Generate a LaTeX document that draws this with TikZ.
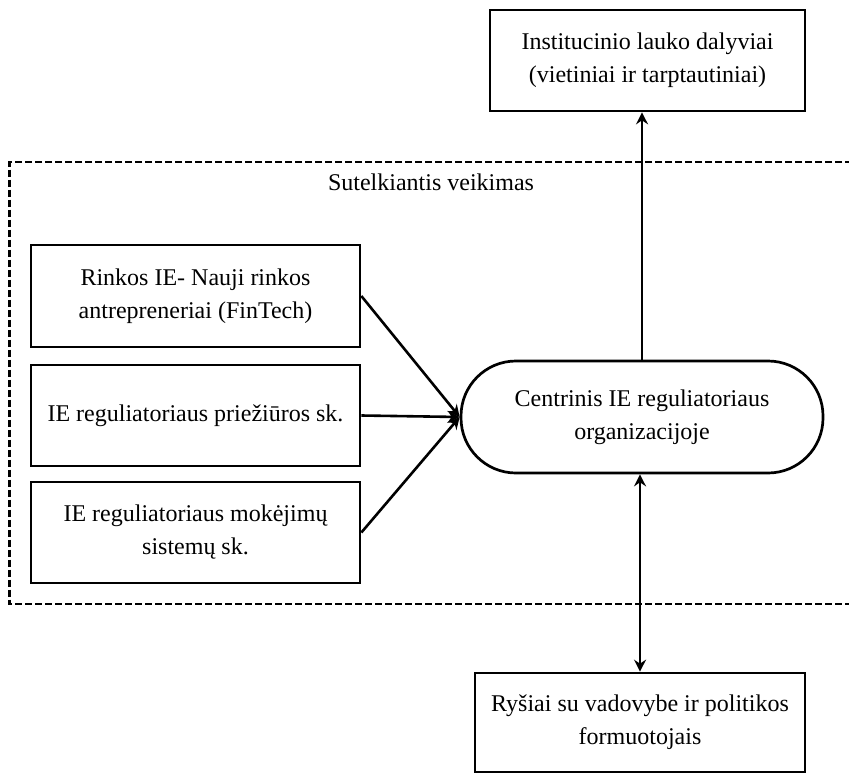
\documentclass[tikz,border=0pt]{standalone}
\usepackage{fontspec}
\setmainfont{Liberation Serif}
\usetikzlibrary{arrows.meta}
\begin{document}
\begin{tikzpicture}[x=0.5pt,y=-0.5pt,
  every node/.style={font=\fontsize{12pt}{16.5pt}\selectfont, align=center, inner sep=0pt},
  box/.style={draw, line width=1.35pt, rectangle},
  pill/.style={draw, line width=1.35pt, rectangle, rounded corners=27.5pt},
  conn/.style={line width=1.3pt, -{Stealth[length=6pt,width=6pt,inset=2pt]}},
  dconn/.style={line width=1.3pt, {Stealth[length=6pt,width=6pt,inset=2pt]}-{Stealth[length=6pt,width=6pt,inset=2pt]}},
  frame/.style={line width=1.2pt, dash pattern=on 3.5pt off 1.5pt}]
\useasboundingbox (0,0) rectangle (849,775);
\fill[white] (0,0) rectangle (849,775);
% top box
\node[box, minimum width=157.5pt, minimum height=50.5pt] (top) at (647.5,60.5)
  {Institucinio lauko dalyviai\\(vietiniai ir tarptautiniai)};
% dashed frame
\draw[frame] (852,162) -- (9.5,162) -- (9.5,604) -- (852,604);
\node (lab) at (431,182) {Sutelkiantis veikimas};
% left boxes
\node[box, minimum width=164.5pt, minimum height=51pt] (b1) at (195.5,296)
  {Rinkos IE- Nauji rinkos\\antrepreneriai (FinTech)};
\node[box, minimum width=164.5pt, minimum height=50.5pt] (b2) at (195.5,415.5)
  {IE reguliatoriaus priežiūros sk.};
\node[box, minimum width=164.5pt, minimum height=50.5pt] (b3) at (195.5,532.5)
  {IE reguliatoriaus mokėjimų\\sistemų sk.};
% central
\node[pill, minimum width=181pt, minimum height=56pt] (c) at (642,417)
  {Centrinis IE reguliatoriaus\\organizacijoje};
% bottom box
\node[box, minimum width=165pt, minimum height=49.5pt] (bot) at (640,722.5)
  {Ryšiai su vadovybe ir politikos\\formuotojais};
% connectors
\draw[conn] (b1.east) -- (c.west);
\draw[conn] (b2.east) -- (c.west);
\draw[conn] (b3.east) -- (c.west);
\draw[conn] (c.north) -- (top.south -| c.north);
\draw[dconn] (bot.north) -- (c.south -| bot.north);
\end{tikzpicture}
\end{document}
